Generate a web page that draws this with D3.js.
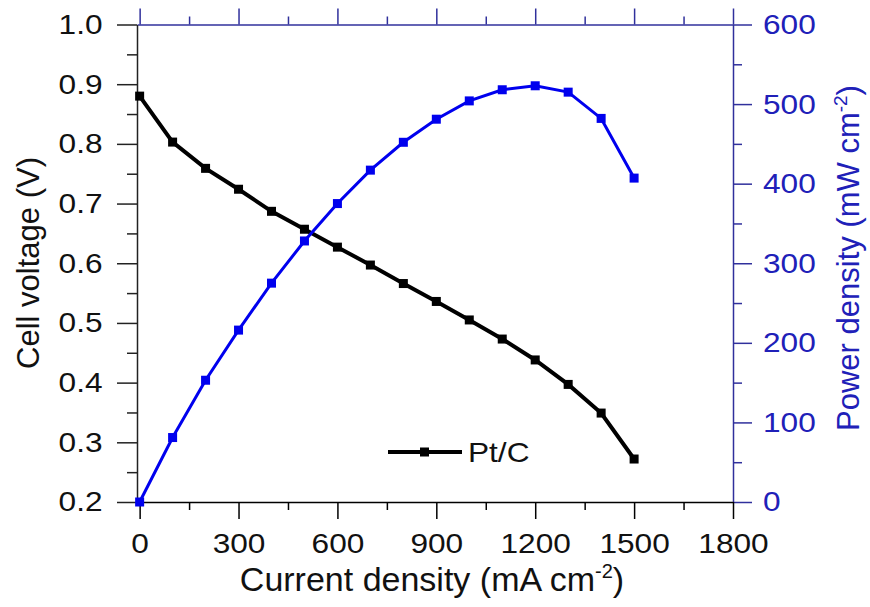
<!DOCTYPE html>
<html>
<head>
<meta charset="utf-8">
<script src="https://cdn.jsdelivr.net/npm/d3@7"></script>
<style>
  body { margin: 0; background: #fff; }
  text { font-family: "Liberation Sans", Arial, sans-serif; }
</style>
</head>
<body>
<script>
// data
const current = [0, 100, 200, 300, 400, 500, 600, 700, 800, 900, 1000, 1100, 1200, 1300, 1400, 1500];
const voltage = [0.880, 0.803, 0.759, 0.724, 0.687, 0.657, 0.627, 0.597, 0.566, 0.536, 0.505, 0.473, 0.438, 0.397, 0.349, 0.272];
const power = [0, 81, 153, 216, 275, 328, 375, 417, 452, 481, 504, 518, 523, 515, 482, 407];

const xTicks = [0, 300, 600, 900, 1200, 1500, 1800];
const xMinor = [150, 450, 750, 1050, 1350, 1650];
const vTicks = [0.2, 0.3, 0.4, 0.5, 0.6, 0.7, 0.8, 0.9, 1.0];
const vMinor = [0.25, 0.35, 0.45, 0.55, 0.65, 0.75, 0.85, 0.95];
const pTicks = [0, 100, 200, 300, 400, 500, 600];
const pMinor = [50, 150, 250, 350, 450, 550];

const W = 870, H = 607;
const L = 137, R = 733, T = 24.5, B = 502;
const navy = "#30309c", blue = "#0000ee", labBlue = "#2020b8";
const sx = 1.13; // horizontal stretch of tick labels

const svg = d3.select("body").append("svg").attr("width", W).attr("height", H);

const x = d3.scaleLinear().domain([-8, 1800]).range([L, R]);
const yV = d3.scaleLinear().domain([0.2, 1.0]).range([B, T]);
const yP = d3.scaleLinear().domain([0, 600]).range([B, T]);

function style(g, col) {
  g.selectAll("path, line").attr("stroke", col).attr("stroke-width", 1.5);
  g.selectAll("text").attr("fill", col).style("font-size", "28px");
}

// minor ticks
svg.append("g").attr("transform", `translate(0,${B})`)
  .call(d3.axisBottom(x).tickValues(xMinor).tickSize(8).tickFormat("").tickSizeOuter(0))
  .call(g => { g.select(".domain").remove(); style(g, "#000"); });
svg.append("g").attr("transform", `translate(0,${T})`)
  .call(d3.axisTop(x).tickValues(xMinor).tickSize(8).tickFormat("").tickSizeOuter(0))
  .call(g => { g.select(".domain").remove(); style(g, navy); });
svg.append("g").attr("transform", `translate(${L},0)`)
  .call(d3.axisLeft(yV).tickValues(vMinor).tickSize(10).tickFormat("").tickSizeOuter(0))
  .call(g => { g.select(".domain").remove(); style(g, "#222"); });
svg.append("g").attr("transform", `translate(${R},0)`)
  .call(d3.axisRight(yP).tickValues(pMinor).tickSize(9).tickFormat("").tickSizeOuter(0))
  .call(g => { g.select(".domain").remove(); style(g, navy); });

// major axes
svg.append("g").attr("transform", `translate(0,${T})`)
  .call(d3.axisTop(x).tickValues(xTicks).tickSize(16).tickFormat("").tickSizeOuter(0))
  .call(g => style(g, navy));
svg.append("g").attr("transform", `translate(${R},0)`)
  .call(d3.axisRight(yP).tickValues(pTicks).tickSize(19).tickFormat(d3.format("d")).tickSizeOuter(0))
  .call(g => {
    style(g, navy);
    g.selectAll("text").attr("fill", labBlue).attr("x", 30 / sx).attr("transform", `scale(${sx},1)`);
  });
svg.append("g").attr("transform", `translate(0,${B})`)
  .call(d3.axisBottom(x).tickValues(xTicks).tickSize(17).tickFormat(d3.format("d")).tickSizeOuter(0))
  .call(g => {
    style(g, "#000");
    g.selectAll("text").attr("y", 51).attr("dy", 0).attr("fill", "#111").attr("transform", `scale(${sx},1)`);
  });
svg.append("g").attr("transform", `translate(${L},0)`)
  .call(d3.axisLeft(yV).tickValues(vTicks).tickSize(20).tickFormat(d3.format(".1f")).tickSizeOuter(0))
  .call(g => {
    style(g, "#222");
    g.selectAll("text").attr("fill", "#111").attr("x", -34.5 / sx).attr("transform", `scale(${sx},1)`);
  });

// voltage series
const vLine = d3.line().x((d, i) => x(current[i])).y(d => yV(d));
svg.append("path").datum(voltage)
  .attr("d", vLine).attr("fill", "none").attr("stroke", "#000").attr("stroke-width", 4);
svg.append("g").selectAll("rect").data(voltage).join("rect")
  .attr("x", (d, i) => x(current[i]) - 4.5).attr("y", d => yV(d) - 4.5)
  .attr("width", 9).attr("height", 9).attr("fill", "#000");

// power series
const pLine = d3.line().x((d, i) => x(current[i])).y(d => yP(d));
svg.append("path").datum(power)
  .attr("d", pLine).attr("fill", "none").attr("stroke", blue).attr("stroke-width", 3);
svg.append("g").selectAll("rect").data(power).join("rect")
  .attr("x", (d, i) => x(current[i]) - 4.5).attr("y", d => yP(d) - 4.5)
  .attr("width", 9).attr("height", 9).attr("fill", blue);

// legend
const lg = svg.append("g").attr("transform", "translate(388,452)");
lg.append("line").attr("x1", 0).attr("x2", 74).attr("stroke", "#000").attr("stroke-width", 4);
lg.append("rect").attr("x", 32).attr("y", -4.5).attr("width", 9).attr("height", 9).attr("fill", "#000");
lg.append("text").attr("x", 80 / sx).attr("y", 10).attr("transform", `scale(${sx},1)`)
  .style("font-size", "28px").attr("fill", "#111").text("Pt/C");

// axis titles
const xt = svg.append("text").attr("x", 432).attr("y", 591).attr("text-anchor", "middle")
  .style("font-size", "34px").attr("fill", "#111");
xt.append("tspan").text("Current density (mA cm");
xt.append("tspan").attr("dy", -13).style("font-size", "20px").text("-2");
xt.append("tspan").attr("dy", 13).text(")");

svg.append("text").attr("transform", "translate(39,263) rotate(-90)").attr("text-anchor", "middle")
  .style("font-size", "31px").attr("fill", "#111").text("Cell voltage (V)");

const yt = svg.append("text").attr("transform", "translate(859,258) rotate(-90)").attr("text-anchor", "middle")
  .style("font-size", "31px").attr("fill", labBlue);
yt.append("tspan").text("Power density (mW cm");
yt.append("tspan").attr("dy", -12).style("font-size", "19px").text("-2");
yt.append("tspan").attr("dy", 12).text(")");
</script>
</body>
</html>
